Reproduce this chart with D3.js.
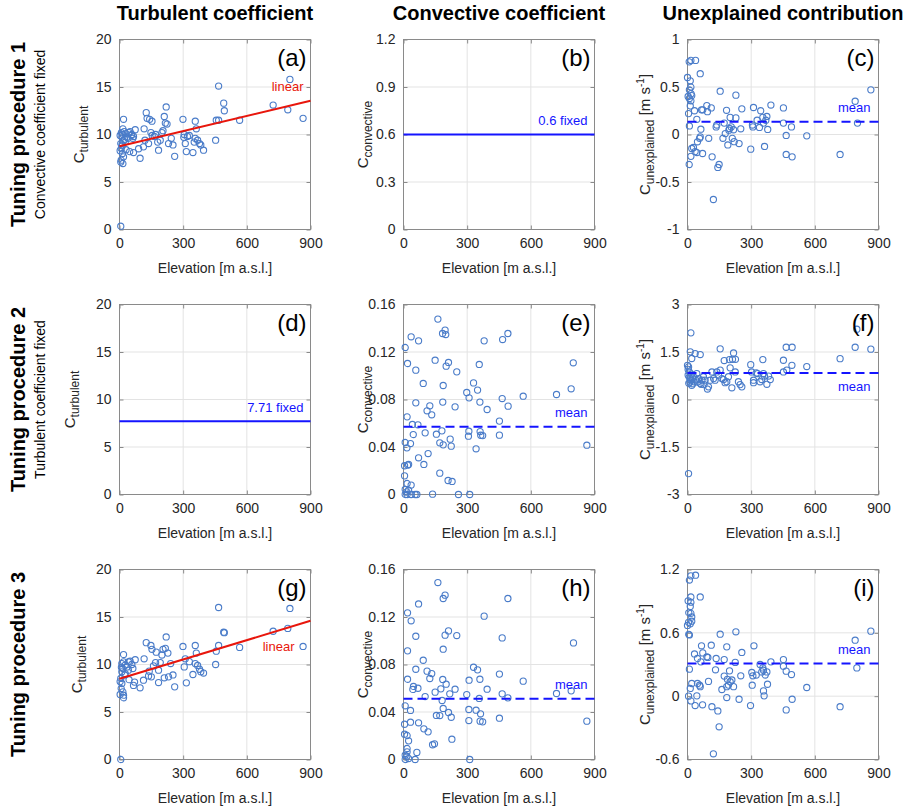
<!DOCTYPE html>
<html><head><meta charset="utf-8">
<script src="https://cdn.jsdelivr.net/npm/d3@7/dist/d3.min.js"></script>
<style>
body{margin:0;background:#fff;}
text{font-family:"Liberation Sans",Arial,Helvetica,sans-serif;}
</style></head><body>
<svg id="chart" width="914" height="810"></svg>
<script>
// ---------------- DATA ----------------
const colTitles = ["Turbulent coefficient","Convective coefficient","Unexplained contribution"];
const rowTitles = ["Tuning procedure 1","Tuning procedure 2","Tuning procedure 3"];
const rowSubtitles = ["Convective coefficient fixed","Turbulent coefficient fixed",""];
const panelLetters = ["(a)","(b)","(c)","(d)","(e)","(f)","(g)","(h)","(i)"];
const xTicks = [0,300,600,900];
const yTicksTurb = [0,5,10,15,20];
const yTicksConvFixed = [0,0.3,0.6,0.9,1.2];
const yTicksUnexpl1 = [-1,-0.5,0,0.5,1];
const yTicksConv = [0,0.04,0.08,0.12,0.16];
const yTicksUnexpl2 = [-3,-1.5,0,1.5,3];
const yTicksUnexpl3 = [-0.6,0,0.6,1.2];

// [elevation (m a.s.l.), value]
const pointsA = [[6,0.35],[6,7.1],[16,6.95],[19,7.65],[11,9.75],[19,11.6],[16,10.6],[22,10.3],[6,9.05],[8,8.5],[13,8.8],[27,9.2],[35,9.7],[44,10.2],[50,10.3],[58,10.0],[66,9.8],[63,9.6],[74,10.5],[66,8.1],[97,7.5],[90,8.5],[113,8.7],[116,10.6],[126,12.3],[142,11.6],[153,11.4],[137,9.05],[164,9.8],[184,8.35],[192,9.4],[200,10.2],[205,10.4],[216,11.2],[220,12.9],[211,11.9],[224,11.1],[231,9.05],[244,9.6],[252,8.9],[260,7.7],[299,11.6],[305,10.0],[310,9.05],[315,8.2],[329,9.9],[346,8.1],[357,11.4],[362,10.6],[357,9.6],[368,9.4],[377,9.05],[383,8.9],[396,8.35],[453,9.4],[456,11.5],[467,11.5],[467,15.1],[491,13.3],[494,12.5],[566,11.5],[724,13.1],[793,12.6],[803,15.8],[865,11.7],[3,9.9],[9,10.2],[14,10.0],[24,9.5],[30,10.1],[40,9.6],[3,8.3],[12,8.9],[18,9.3],[48,8.2],[56,9.9],[31,8.4],[120,9.4],[148,10.2],[170,10.0],[180,9.2],[154,9.9],[130,11.7],[320,9.8],[352,9.2],[303,9.7],[8,7.3],[14,8.0]];
const fitA = [8.77,13.55];          // linear fit at 0 and 900 m
const fixedB = 0.6;
const pointsC = [[8,0.765],[16,0.78],[38,0.78],[60,0.64],[0,0.60],[13,0.565],[16,0.50],[9,0.47],[17,0.43],[3,0.40],[9,0.38],[16,0.355],[20,0.41],[13,0.30],[5,0.22],[9,0.09],[33,0.25],[44,0.16],[63,0.056],[66,0.26],[72,0.26],[91,0.305],[94,0.24],[112,0.28],[60,-0.025],[57,-0.04],[47,-0.077],[20,-0.147],[28,-0.137],[36,-0.18],[44,-0.19],[71,-0.2],[16,-0.23],[8,-0.316],[100,-0.04],[116,-0.235],[135,0.08],[138,0.1],[154,0.456],[149,-0.316],[143,-0.347],[122,-0.684],[167,-0.04],[173,0.12],[178,0.01],[184,0.255],[190,-0.11],[195,0.046],[198,0.063],[201,0.18],[206,0.08],[211,-0.04],[217,0.05],[220,-0.075],[228,0.175],[228,0.414],[243,-0.095],[251,0.06],[256,0.27],[298,-0.154],[306,0.1],[311,0.284],[308,0.08],[328,0.15],[339,0.074],[345,0.25],[355,0.18],[358,0.12],[363,-0.126],[369,0.15],[374,0.19],[378,0.053],[393,0.31],[452,0.28],[452,0.12],[465,-0.01],[465,-0.21],[490,0.08],[493,-0.235],[562,-0.014],[719,-0.21],[790,0.35],[801,0.12],[864,0.47]];
const meanC = 0.133;
const fixedD = 7.71;
const pointsE = [[162,0.1477],[36,0.1328],[71,0.1294],[8,0.1238],[184,0.1356],[196,0.1384],[199,0.1347],[380,0.1294],[467,0.1305],[492,0.1356],[19,0.1103],[58,0.1047],[149,0.1131],[212,0.1112],[201,0.1081],[251,0.1033],[357,0.1095],[93,0.0935],[187,0.0918],[330,0.094],[349,0.0879],[298,0.0859],[309,0.0814],[360,0.0778],[465,0.0808],[493,0.0744],[564,0.0828],[721,0.0842],[790,0.089],[800,0.1109],[864,0.0415],[58,0.0772],[124,0.0747],[111,0.0705],[133,0.0671],[185,0.0778],[243,0.0738],[394,0.0716],[452,0.0618],[17,0.0654],[42,0.059],[68,0.0587],[46,0.0505],[102,0.0519],[155,0.0508],[181,0.0536],[220,0.0466],[308,0.0533],[306,0.0491],[361,0.053],[364,0.0499],[373,0.0496],[452,0.05],[8,0.0438],[33,0.0429],[16,0.0393],[171,0.0435],[187,0.0418],[225,0.0407],[342,0.0385],[116,0.0345],[71,0.0309],[96,0.0253],[5,0.0242],[19,0.0247],[24,0.0253],[5,0.0157],[171,0.018],[210,0.0118],[229,0.011],[17,0.0093],[36,0.0079],[8,0.0042],[16,0.0022],[24,0.0036],[8,0],[17,0],[36,0],[55,0],[63,0],[137,0.0003],[259,0],[312,0]];
const meanE = 0.057;
const pointsF = [[16,2.105],[798,2.22],[13,1.505],[36,1.45],[60,1.42],[20,1.295],[154,1.6],[217,1.47],[173,1.23],[198,1.26],[212,1.27],[226,1.27],[201,1.0],[298,1.1],[355,1.26],[452,1.24],[465,1.65],[493,1.65],[492,1.08],[562,1.04],[719,1.29],[790,1.65],[864,1.59],[0,1.08],[5,1.03],[9,0.87],[3,0.77],[13,0.66],[6,0.51],[16,0.61],[20,0.45],[28,0.72],[31,0.56],[44,0.82],[52,0.66],[60,0.51],[68,0.61],[75,0.72],[83,0.61],[94,0.33],[99,0.4],[107,0.61],[115,0.87],[123,0.66],[130,0.61],[138,0.87],[146,0.77],[154,0.93],[162,0.66],[170,0.63],[177,0.53],[185,0.56],[193,0.72],[209,0.37],[225,0.87],[240,0.56],[248,0.47],[256,0.4],[302,0.87],[311,0.61],[311,0.53],[324,0.84],[330,0.82],[342,0.56],[350,0.63],[358,0.82],[363,0.74],[374,0.48],[382,0.74],[390,0.63],[452,0.87],[468,0.93],[5,-2.34],[3,0.95],[8,0.7],[11,0.55],[18,0.8],[23,0.68],[25,0.5],[38,0.62],[47,0.55],[64,0.48],[78,0.47]];
const meanF = 0.84;
const pointsG = [[6,0],[467,16.0],[803,15.9],[491,13.4],[494,13.35],[724,13.5],[793,13.8],[865,11.9],[220,12.9],[126,12.3],[148,12.0],[153,11.6],[173,11.3],[205,11.6],[216,11.7],[228,11.2],[200,11.0],[299,11.9],[357,12.0],[362,11.2],[467,12.0],[456,11.4],[566,11.8],[19,11.05],[453,10.0],[74,10.5],[116,10.6],[241,10.1],[310,10.6],[329,10.3],[357,10.1],[368,9.9],[377,9.5],[383,9.25],[396,9.1],[346,8.95],[305,9.75],[160,9.86],[184,9.4],[192,10.2],[252,8.9],[231,8.7],[260,7.65],[315,8.07],[184,8.1],[211,8.6],[137,8.8],[113,8.35],[97,7.55],[66,7.8],[71,8.15],[6,8.53],[11,8.0],[8,7.47],[16,7.12],[19,6.77],[19,6.5],[3,6.84],[11,10.1],[19,10.28],[27,9.93],[35,9.75],[42,10.28],[50,10.35],[58,10.0],[63,9.58],[42,9.4],[27,9.05],[11,9.23],[16,9.58],[3,8.2],[9,9.7],[25,8.9],[45,8.4],[140,9.3],[170,10.2],[150,8.7]];
const fitG = [8.5,14.6];
const pointsH = [[162,0.149],[187,0.1356],[196,0.1384],[71,0.131],[492,0.1356],[19,0.1235],[36,0.1168],[380,0.1207],[58,0.1038],[196,0.1047],[212,0.1083],[251,0.1044],[465,0.1024],[801,0.0982],[19,0.0915],[187,0.0929],[93,0.0836],[58,0.076],[111,0.0744],[133,0.0724],[124,0.0682],[19,0.0676],[185,0.0674],[201,0.0634],[330,0.0777],[349,0.0755],[360,0.0676],[309,0.0668],[452,0.0719],[564,0.066],[47,0.0615],[44,0.059],[68,0.06],[176,0.0595],[149,0.0567],[243,0.0592],[218,0.0553],[394,0.0592],[298,0.0547],[465,0.0553],[492,0.0519],[721,0.0556],[790,0.0578],[102,0.053],[182,0.0497],[357,0.0514],[8,0.0452],[33,0.0413],[187,0.043],[212,0.0396],[308,0.0421],[342,0.0415],[363,0.0385],[155,0.0371],[171,0.037],[225,0.0356],[452,0.0348],[308,0.0328],[361,0.0323],[373,0.0317],[33,0.0314],[71,0.0309],[864,0.0323],[5,0.0297],[96,0.0258],[116,0.0233],[5,0.0213],[17,0.0202],[24,0.0157],[228,0.0171],[137,0.0124],[146,0.0132],[17,0.0093],[17,0.0065],[63,0.006],[8,0.0036],[16,0.0028],[24,0.0008],[8,0],[55,0],[312,0]];
const meanH = 0.0511;
const pointsI = [[16,1.14],[38,1.146],[9,1.10],[60,0.94],[16,0.94],[3,0.903],[16,0.89],[13,0.85],[6,0.79],[16,0.785],[20,0.75],[5,0.7],[13,0.685],[20,0.71],[0,0.67],[9,0.58],[6,0.585],[154,0.587],[228,0.61],[790,0.53],[864,0.616],[66,0.477],[112,0.483],[185,0.467],[313,0.477],[72,0.41],[33,0.4],[256,0.414],[91,0.373],[96,0.367],[47,0.357],[63,0.325],[135,0.357],[173,0.347],[225,0.32],[342,0.3],[393,0.325],[452,0.347],[452,0.284],[465,0.237],[490,0.205],[9,0.256],[132,0.25],[198,0.24],[251,0.193],[303,0.224],[308,0.193],[324,0.2],[350,0.23],[358,0.246],[366,0.2],[374,0.23],[355,0.268],[798,0.268],[173,0.19],[188,0.16],[201,0.137],[209,0.153],[193,0.105],[185,0.09],[217,0.09],[99,0.14],[20,0.12],[13,0.073],[47,0.12],[57,0.104],[60,0.09],[162,0.063],[305,0.104],[377,0.113],[358,0.05],[361,0.003],[562,0.082],[5,0.0],[16,-0.045],[44,0.003],[36,-0.089],[71,-0.082],[185,-0.013],[243,-0.029],[297,-0.089],[493,-0.029],[465,-0.13],[115,-0.1],[143,-0.14],[149,-0.29],[122,-0.546],[719,-0.1]];
const meanI = 0.31;

// ---------------- LAYOUT ----------------
const colX = [119.5, 403.5, 687.5];
const rowY = [39.5, 304.5, 569.5];
const W = 191, H = 190;

const RED = "#e8160c", BLUE = "#1414ff", PT = "#4a7cc9";

const panels = [
 {r:0,c:0,dom:[0,20],ticks:yTicksTurb,ylab:"turbulent",pts:pointsA,fit:fitA,label:"linear",lcol:RED,lpos:"above",lx:7,ylx:36},
 {r:0,c:1,dom:[0,1.2],ticks:yTicksConvFixed,ylab:"convective",fixed:fixedB,label:"0.6 fixed",lcol:BLUE,lpos:"above",lx:7,ylx:36},
 {r:0,c:2,dom:[-1,1],ticks:yTicksUnexpl1,ylab:"unexplained",unit:true,pts:pointsC,mean:meanC,label:"mean",lcol:BLUE,lpos:"above",lx:8,ylx:38},
 {r:1,c:0,dom:[0,20],ticks:yTicksTurb,ylab:"turbulent",fixed:fixedD,label:"7.71 fixed",lcol:BLUE,lpos:"above",lx:7,ylx:45},
 {r:1,c:1,dom:[0,0.16],ticks:yTicksConv,ylab:"convective",pts:pointsE,mean:meanE,label:"mean",lcol:BLUE,lpos:"above",lx:7,ylx:36},
 {r:1,c:2,dom:[-3,3],ticks:yTicksUnexpl2,ylab:"unexplained",unit:true,pts:pointsF,mean:meanF,label:"mean",lcol:BLUE,lpos:"below",lx:8,ylx:38},
 {r:2,c:0,dom:[0,20],ticks:yTicksTurb,ylab:"turbulent",pts:pointsG,fit:fitG,label:"linear",lcol:RED,lpos:"below",lx:16,ylx:38},
 {r:2,c:1,dom:[0,0.16],ticks:yTicksConv,ylab:"convective",pts:pointsH,mean:meanH,label:"mean",lcol:BLUE,lpos:"above",lx:7,ylx:36},
 {r:2,c:2,dom:[-0.6,1.2],ticks:yTicksUnexpl3,ylab:"unexplained",unit:true,pts:pointsI,mean:meanI,label:"mean",lcol:BLUE,lpos:"above",lx:8,ylx:38},
];

const svg = d3.select("#chart");

// column titles
colTitles.forEach((t,i)=>{
  svg.append("text").attr("x",colX[i]+W/2).attr("y",20).attr("text-anchor","middle")
    .attr("font-size",20).attr("font-weight","bold").attr("fill","#000").text(t);
});
// row titles
rowTitles.forEach((t,i)=>{
  const cy = rowY[i]+H/2;
  svg.append("text").attr("transform",`translate(25,${cy}) rotate(-90)`).attr("text-anchor","middle")
    .attr("font-size",20).attr("font-weight","bold").attr("fill","#000").text(t);
  if(rowSubtitles[i]) svg.append("text").attr("transform",`translate(45,${cy}) rotate(-90)`).attr("text-anchor","middle")
    .attr("font-size",14).attr("fill","#000").text(rowSubtitles[i]);
});

panels.forEach((p,k)=>{
  const x0 = colX[p.c], y0 = rowY[p.r];
  const g = svg.append("g").attr("transform",`translate(${x0},${y0})`);
  const x = d3.scaleLinear().domain([0,900]).range([0,W]);
  const y = d3.scaleLinear().domain(p.dom).range([H,0]);

  // grid
  g.append("g").selectAll("line").data(xTicks).join("line")
    .attr("x1",d=>x(d)).attr("x2",d=>x(d)).attr("y1",0).attr("y2",H)
    .attr("stroke","#e3e3e3").attr("stroke-width",1);
  g.append("g").selectAll("line").data(p.ticks).join("line")
    .attr("y1",d=>y(d)).attr("y2",d=>y(d)).attr("x1",0).attr("x2",W)
    .attr("stroke","#e3e3e3").attr("stroke-width",1);

  // axes (ticks inside, box)
  const ax = d3.axisBottom(x).tickValues(xTicks).tickSize(-4).tickPadding(9).tickFormat(d3.format("d"));
  const gx = g.append("g").attr("transform",`translate(0,${H})`).call(ax);
  const ay = d3.axisLeft(y).tickValues(p.ticks).tickSize(-4).tickPadding(8).tickFormat(d=>String(+d.toFixed(3)));
  const gy = g.append("g").call(ay);
  // top/right mirror ticks
  g.append("g").call(d3.axisTop(x).tickValues(xTicks).tickSize(-4).tickFormat(""));
  g.append("g").attr("transform",`translate(${W},0)`).call(d3.axisRight(y).tickValues(p.ticks).tickSize(-4).tickFormat(""));
  g.selectAll(".domain").remove();
  g.selectAll(".tick line").attr("stroke","#8a8a8a");
  [gx,gy].forEach(a=>a.selectAll("text").attr("font-size",14).attr("fill","#262626")
      .attr("font-family",'"Liberation Sans",Arial,sans-serif'));
  g.append("rect").attr("width",W).attr("height",H).attr("fill","none").attr("stroke","#8a8a8a").attr("stroke-width",1);

  // points
  if(p.pts){
    g.append("g").selectAll("circle").data(p.pts).join("circle")
      .attr("cx",d=>x(d[0])).attr("cy",d=>y(d[1])).attr("r",3.1)
      .attr("fill","none").attr("stroke",PT).attr("stroke-width",1.1);
  }
  // lines
  let lineYEnd;
  if(p.fit){
    g.append("line").attr("x1",x(0)).attr("x2",x(900)).attr("y1",y(p.fit[0])).attr("y2",y(p.fit[1]))
      .attr("stroke",RED).attr("stroke-width",2);
    lineYEnd = y(p.fit[1]);
  }
  if(p.fixed!==undefined){
    g.append("line").attr("x1",x(0)).attr("x2",x(900)).attr("y1",y(p.fixed)).attr("y2",y(p.fixed))
      .attr("stroke",BLUE).attr("stroke-width",2);
    lineYEnd = y(p.fixed);
  }
  if(p.mean!==undefined){
    g.append("line").attr("x1",x(0)).attr("x2",x(900)).attr("y1",y(p.mean)).attr("y2",y(p.mean))
      .attr("stroke",BLUE).attr("stroke-width",2).attr("stroke-dasharray","9,5");
    lineYEnd = y(p.mean);
  }
  const ly = p.lpos==="above" ? lineYEnd-14 : (p.fit ? lineYEnd+26 : lineYEnd+14);
  g.append("text").attr("x",W-p.lx).attr("y",ly).attr("dy","0.35em").attr("text-anchor","end")
    .attr("font-size",13).attr("fill",p.lcol).text(p.label);

  // panel letter
  g.append("text").attr("x",W-4).attr("y",26).attr("text-anchor","end")
    .attr("font-size",24).attr("fill","#000").text(panelLetters[k]);

  // x label
  g.append("text").attr("x",W/2).attr("y",H+43).attr("text-anchor","middle")
    .attr("font-size",14).attr("fill","#262626").text("Elevation [m a.s.l.]");

  // y label
  const yl = g.append("text").attr("transform",`translate(${-p.ylx},${H/2}) rotate(-90)`)
    .attr("text-anchor","middle").attr("fill","#262626");
  yl.append("tspan").attr("font-size",15).text("C");
  yl.append("tspan").attr("font-size",12).attr("dy",4).text(p.ylab);
  if(p.unit){
    yl.append("tspan").attr("font-size",15).attr("dy",-4).text(" [m s");
    yl.append("tspan").attr("font-size",10).attr("dy",-6).text("-1");
    yl.append("tspan").attr("font-size",15).attr("dy",6).text("]");
  }
});
</script>
</body></html>
